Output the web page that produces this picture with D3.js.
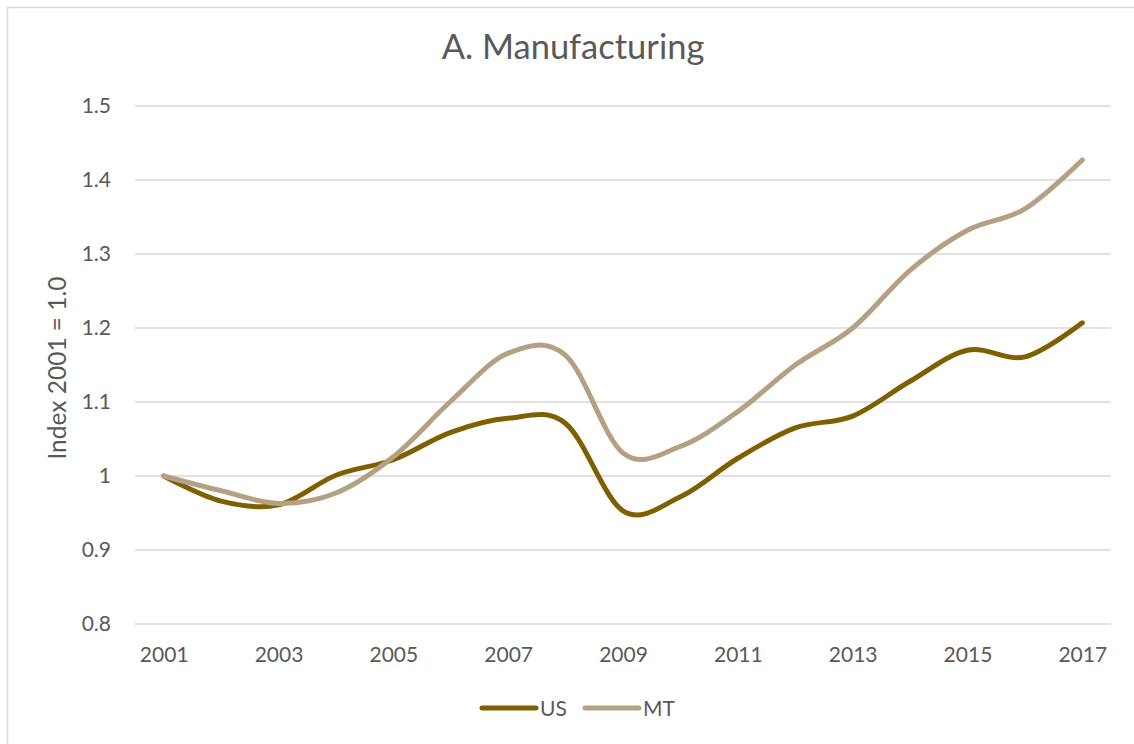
<!DOCTYPE html>
<html>
<head>
<meta charset="utf-8">
<script src="https://cdn.jsdelivr.net/npm/d3@7"></script>
<style>
  html, body { margin: 0; padding: 0; background: #fff; }
  svg { display: block; font-family: Lato, "Open Sans", sans-serif; }
</style>
</head>
<body>
<svg id="chart" width="1134" height="744"></svg>
<script>
// Manufacturing output index, 2001 = 1.0
const years = ["2001","2002","2003","2004","2005","2006","2007","2008","2009",
               "2010","2011","2012","2013","2014","2015","2016","2017"];
const usValues = [1.000, 0.966, 0.961, 1.001, 1.022, 1.059, 1.078, 1.071, 0.953,
                  0.972, 1.024, 1.065, 1.081, 1.128, 1.170, 1.161, 1.207];
const mtValues = [1.000, 0.980, 0.963, 0.977, 1.026, 1.101, 1.166, 1.163, 1.031,
                  1.040, 1.087, 1.150, 1.200, 1.278, 1.332, 1.361, 1.427];
const yTicks = [0.8, 0.9, 1.0, 1.1, 1.2, 1.3, 1.4, 1.5];
const seriesNames = ["US", "MT"];
const seriesColors = ["#7f6000", "#b4a184"];

const svg = d3.select("#chart");
const textColor = "#595959";
const gridColor = "#d9d9d9";

// chart frame
svg.append("rect")
  .attr("x", 7.5).attr("y", 7.5)
  .attr("width", 1140).attr("height", 760)
  .attr("fill", "#fff").attr("stroke", gridColor).attr("stroke-width", 1.5);

const plot = { left: 135, right: 1111, top: 106, bottom: 624 };

const x = d3.scalePoint().domain(years).range([plot.left, plot.right]).padding(0.5);
const y = d3.scaleLinear().domain([0.8, 1.5]).range([plot.bottom, plot.top]);

// horizontal gridlines
svg.append("g")
  .selectAll("line")
  .data(yTicks)
  .join("line")
  .attr("x1", plot.left).attr("x2", plot.right)
  .attr("y1", d => y(d)).attr("y2", d => y(d))
  .attr("stroke", gridColor).attr("stroke-width", 1.5);

// y axis labels
const yAxis = svg.append("g")
  .attr("transform", `translate(${plot.left - 24},0)`)
  .call(d3.axisLeft(y).tickValues(yTicks).tickSize(0).tickPadding(0)
        .tickFormat(d => d === 1 ? "1" : d3.format(".1f")(d)));
yAxis.select(".domain").remove();
yAxis.selectAll("text")
  .attr("fill", textColor).attr("font-size", 21)
  .attr("font-family", "Lato, sans-serif");

// x axis labels
const xAxis = svg.append("g")
  .attr("transform", `translate(0,${plot.bottom + 23})`)
  .call(d3.axisBottom(x).tickValues(years.filter((d, i) => i % 2 === 0))
        .tickSize(0).tickPadding(0));
xAxis.select(".domain").remove();
xAxis.selectAll("text")
  .attr("fill", textColor).attr("font-size", 21)
  .attr("font-family", "Lato, sans-serif");

// title
svg.append("text")
  .attr("x", 573)
  .attr("y", 59)
  .attr("text-anchor", "middle")
  .attr("fill", textColor)
  .attr("font-size", 34.5)
  .text("A. Manufacturing");

// y axis title
svg.append("text")
  .attr("transform", "translate(66,368) rotate(-90)")
  .attr("text-anchor", "middle")
  .attr("fill", textColor)
  .attr("font-size", 24.5)
  .text("Index 2001 = 1.0");

// series lines
const line = d3.line()
  .x((d, i) => x(years[i]))
  .y(d => y(d))
  .curve(d3.curveCardinal.tension(0));

const series = [usValues, mtValues];
svg.append("g")
  .selectAll("path")
  .data(series)
  .join("path")
  .attr("d", d => line(d))
  .attr("fill", "none")
  .attr("stroke", (d, i) => seriesColors[i])
  .attr("stroke-width", 5)
  .attr("stroke-linecap", "round")
  .attr("stroke-linejoin", "round");

// legend
const legend = svg.append("g").attr("transform", "translate(482,708)");
const legendItems = legend.selectAll("g")
  .data(seriesNames)
  .join("g")
  .attr("transform", (d, i) => `translate(${i * 103},0)`);
legendItems.append("line")
  .attr("x1", 0).attr("x2", 54)
  .attr("y1", 0).attr("y2", 0)
  .attr("stroke", (d, i) => seriesColors[i])
  .attr("stroke-width", 5)
  .attr("stroke-linecap", "round");
legendItems.append("text")
  .attr("x", 58).attr("y", 7.5)
  .attr("fill", textColor)
  .attr("font-size", 21)
  .text(d => d);
</script>
</body>
</html>
